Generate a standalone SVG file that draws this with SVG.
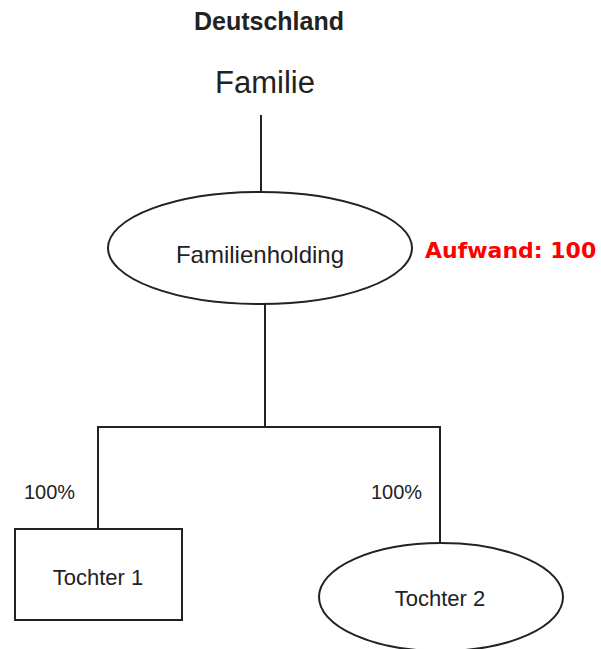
<svg xmlns="http://www.w3.org/2000/svg" width="601" height="649" viewBox="0 0 601 649">
  <style>
    .shape { fill: #ffffff; stroke: #222222; stroke-width: 2; }
    .wire { fill: none; stroke: #222222; stroke-width: 2; }
    .lbl { font-family: "Liberation Sans", Arial, sans-serif; fill: #222222; text-anchor: middle; }
    .pct { font-family: "Liberation Sans", Arial, sans-serif; fill: #222222; font-size: 20px; }
    .cost { font-family: "DejaVu Sans", Verdana, sans-serif; font-weight: bold; fill: #ff0000; font-size: 22px; }
  </style>
  <rect width="601" height="649" fill="#ffffff"/>

  <text class="lbl" x="269" y="30" font-size="25" font-weight="bold">Deutschland</text>

  <!-- connectors -->
  <g id="connectors">
    <line class="wire" x1="261" y1="115" x2="261" y2="191"/>
    <line class="wire" x1="265" y1="304" x2="265" y2="427"/>
    <polyline class="wire" points="98,529 98,427 440,427 440,543"/>
  </g>

  <g id="familie">
    <text class="lbl" x="265" y="93" font-size="31">Familie</text>
  </g>

  <g id="familienholding">
    <ellipse class="shape" cx="260" cy="248" rx="152" ry="56"/>
    <text class="lbl" x="260" y="263" font-size="24">Familienholding</text>
  </g>

  <text class="cost" x="425" y="258">Aufwand: 100</text>

  <text class="pct" x="24" y="499">100%</text>
  <text class="pct" x="371" y="499">100%</text>

  <g id="tochter1">
    <rect class="shape" x="15" y="529" width="167" height="91"/>
    <text class="lbl" x="98" y="585" font-size="22">Tochter 1</text>
  </g>

  <g id="tochter2">
    <ellipse class="shape" cx="441" cy="597" rx="122" ry="54"/>
    <text class="lbl" x="440" y="606" font-size="22">Tochter 2</text>
  </g>
</svg>
